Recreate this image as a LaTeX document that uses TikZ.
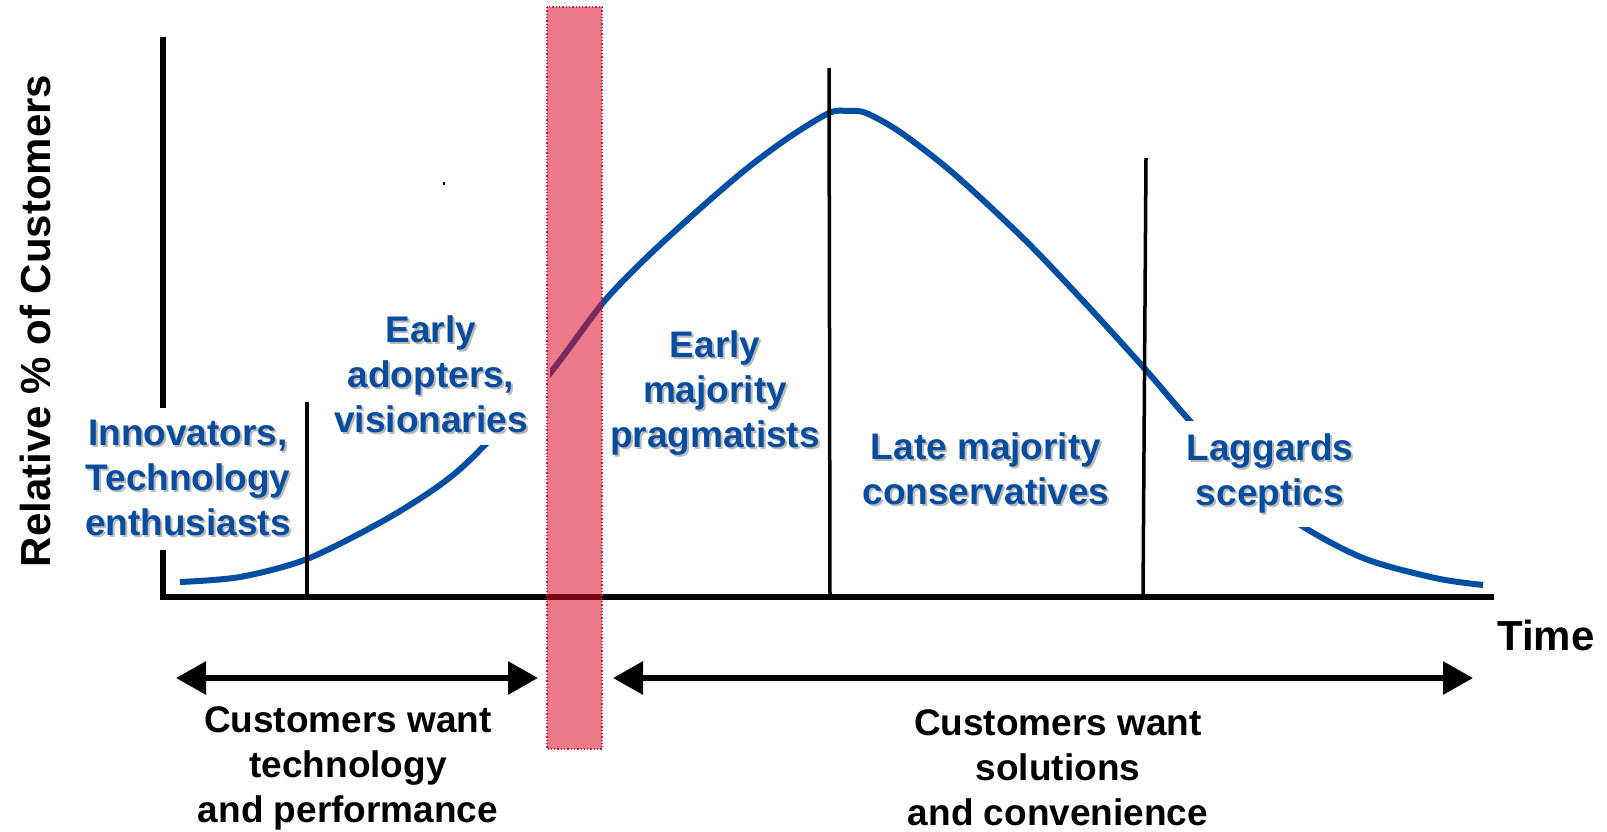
\documentclass[tikz,border=0pt]{standalone}
\usepackage{fontspec}
\setmainfont{Liberation Sans}
\usetikzlibrary{arrows.meta}
\definecolor{cblue}{RGB}{0,78,162}
\definecolor{tblue}{RGB}{8,76,158}
\definecolor{shgray}{RGB}{185,185,185}
\definecolor{barred}{RGB}{220,13,39}
\newcommand\shtxt[1]{\makebox[0pt][l]{\hspace{2pt}\raisebox{-2pt}{\textcolor{shgray}{#1}}}#1}
\begin{document}
\begin{tikzpicture}[x=1pt,y=-1pt,
  bluelbl/.style={font=\fontsize{37}{45}\selectfont\bfseries, text=tblue, align=center, inner sep=0pt},
  blacklbl/.style={font=\fontsize{37}{45}\selectfont\bfseries, text=black, align=center, inner sep=0pt},
  axislbl/.style={font=\fontsize{42}{48}\selectfont\bfseries, text=black, inner sep=0pt},
  axisline/.style={line width=6pt, black},
  sepline/.style={line width=3.5pt, black},
  curveline/.style={line width=6pt, cblue},
  dblarrow/.style={line width=6pt, {Triangle[length=30pt,width=32pt]}-{Triangle[length=30pt,width=32pt]}},
  redbar/.style={fill=barred, fill opacity=0.55, draw=barred, draw opacity=0.9, dotted, line width=1.3pt}]
\useasboundingbox (0,0) rectangle (1607,831);
% curve
\draw[curveline] plot[smooth, tension=0.5] coordinates {(180,582) (240,577) (307,559) (383,521) (440,485) (478,452) (547,377) (602,304) (645,259) (695,213) (745,170) (788,138) (829,113) (848,111) (866,113) (900,132) (953,173) (1025,240) (1086,304) (1145,369) (1189,420) (1240,474) (1296,522) (1363,558) (1435,578) (1483,585)};
% axes
\coordinate (ytop) at (163,37);
\coordinate (orig) at (163,597);
\coordinate (xend) at (1494,597);
\draw[axisline] (ytop) -- (orig) -- (xend);
% separators
\coordinate (s1t) at (307,402); \coordinate (s1b) at (307,597);
\coordinate (s2t) at (829,68);  \coordinate (s2b) at (830,597);
\coordinate (s3t) at (1146,158); \coordinate (s3b) at (1143,597);
\draw[sepline] (s1t) -- (s1b);
\draw[sepline] (s2t) -- (s2b);
\draw[sepline] (s3t) -- (s3b);
\fill (443,182) rectangle (445,185);
% blue labels
\node[bluelbl, fill=white, inner xsep=6pt, inner ysep=12pt] (innov) at (188,479) {\shtxt{Innovators,}\\\shtxt{Technology}\\\shtxt{enthusiasts}};
\node[bluelbl, fill=white, inner xsep=22pt, inner ysep=10pt] (early) at (431,375) {\shtxt{Early}\\\shtxt{adopters,}\\\shtxt{visionaries}};
\node[bluelbl] (emaj) at (715,394) {\shtxt{Early}\\\shtxt{majority}\\\shtxt{pragmatists}};
\node[bluelbl] (lmaj) at (986,470) {\shtxt{Late majority}\\\shtxt{conservatives}};
\node[bluelbl, fill=white, inner xsep=4pt, inner ysep=12pt] (lag) at (1270,474) {\shtxt{Laggards}\\\shtxt{sceptics}};
% axis labels
\node[axislbl, rotate=90] (ylab) at (35,321) {Relative \% of Customers};
\node[axislbl] (xlab) at (1546,635) {Time};
% arrows
\coordinate (a1l) at (176,678); \coordinate (a1r) at (538,678);
\coordinate (a2l) at (613,678); \coordinate (a2r) at (1473,678);
\draw[dblarrow] (a1l) -- (a1r);
\draw[dblarrow] (a2l) -- (a2r);
% bottom labels
\node[blacklbl] (techperf) at (348,768) {Customers want\\technology\\and performance};
\node[blacklbl] (solconv) at (1058,768) {Customers want\\solutions\\and convenience};
% chasm bar
\draw[redbar] (547,7) rectangle (602,749);
\end{tikzpicture}
\end{document}
